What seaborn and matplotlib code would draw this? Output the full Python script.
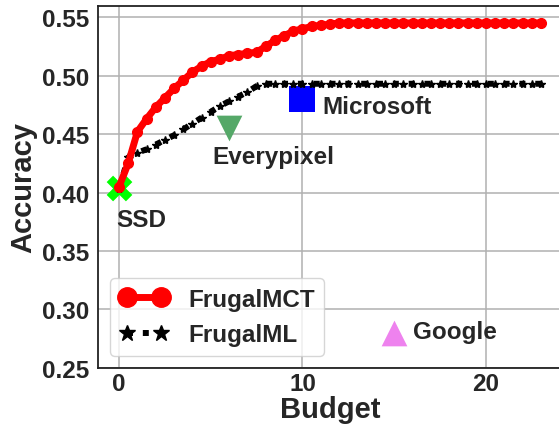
import numpy as np
import pandas as pd
import matplotlib
matplotlib.use("Agg")
import matplotlib.pyplot as plt
import seaborn as sns

# Budget grid shared by both strategies
budget = np.arange(0, 23.5, 0.5)

frugal_mct = [
    0.405, 0.425, 0.452, 0.463, 0.473, 0.481, 0.489, 0.496, 0.503, 0.508,
    0.512, 0.514, 0.517, 0.518, 0.519, 0.520, 0.525, 0.530, 0.534, 0.538,
    0.540, 0.542, 0.543, 0.544, 0.545, 0.545, 0.545, 0.545, 0.545, 0.545,
    0.545, 0.545, 0.545, 0.545, 0.545, 0.545, 0.545, 0.545, 0.545, 0.545,
    0.545, 0.545, 0.545, 0.545, 0.545, 0.545, 0.545,
]
frugal_ml = [
    0.403, 0.430, 0.434, 0.437, 0.441, 0.445, 0.449, 0.454, 0.459, 0.464,
    0.469, 0.474, 0.478, 0.482, 0.486, 0.491, 0.493, 0.493, 0.493, 0.493,
    0.493, 0.493, 0.493, 0.493, 0.493, 0.493, 0.493, 0.493, 0.493, 0.493,
    0.493, 0.493, 0.493, 0.493, 0.493, 0.493, 0.493, 0.493, 0.493, 0.493,
    0.493, 0.493, 0.493, 0.493, 0.493, 0.493, 0.493,
]

# Single commercial / open-source APIs
api_names = ["SSD", "Everypixel", "Microsoft", "Google"]
api_cost = [0, 6, 10, 15]
api_acc = [0.404, 0.455, 0.480, 0.280]
api_marker = ["X", "v", "s", "^"]
api_color = ["#00ff00", "#55a868", "#0000ff", "#ee82ee"]
# label anchor (budget, accuracy) for each API name
label_pos = [(-0.15, 0.377), (5.07, 0.431), (11.07, 0.4737), (16.04, 0.281)]

sns.set_theme(style="whitegrid")
plt.rcParams["font.family"] = ["Liberation Sans", "DejaVu Sans"]
plt.rcParams["font.weight"] = "bold"
plt.rcParams["axes.labelweight"] = "bold"
plt.rcParams["text.color"] = "#262626"

fig = plt.figure(figsize=(5.59, 4.31), dpi=100)
ax = fig.add_axes([0.1753, 0.1439, 0.8301, 0.8399])

for name, c, a, m, col in zip(api_names, api_cost, api_acc, api_marker, api_color):
    sns.scatterplot(x=[c], y=[a], marker=m, color=col, s=18.5 ** 2,
                    linewidth=0, ax=ax, zorder=2)

df = pd.DataFrame({"budget": budget, "mct": frugal_mct, "ml": frugal_ml})
sns.lineplot(data=df, x="budget", y="mct", color="red", linewidth=5,
             marker="o", markersize=7, markeredgewidth=1,
             markeredgecolor="red",
             label="FrugalMCT", ax=ax, zorder=4)
sns.lineplot(data=df, x="budget", y="ml", color="black", linewidth=4.3,
             linestyle=":", marker="*", markersize=6, markeredgewidth=1,
             markeredgecolor="black",
             label="FrugalML", ax=ax, zorder=3)

for name, (tx, ty) in zip(api_names, label_pos):
    ax.text(tx, ty, name, fontsize=17.5, fontweight="bold", va="center",
            ha="left", color="#262626")

ax.set_xlim(-1.15, 24.15)
ax.set_ylim(0.25, 0.5595)
ax.set_xticks([0, 10, 20])
ax.set_yticks([0.25, 0.30, 0.35, 0.40, 0.45, 0.50, 0.55])
ax.set_yticklabels(["0.25", "0.30", "0.35", "0.40", "0.45", "0.50", "0.55"])
ax.tick_params(axis="both", length=0, labelsize=17.5)
ax.tick_params(axis="x", pad=3)
ax.tick_params(axis="y", pad=6)
ax.set_xlabel("Budget", fontsize=21, fontweight="bold", labelpad=0)
ax.set_ylabel("Accuracy", fontsize=21, fontweight="bold", labelpad=4)

ax.grid(True, color="#b0b0b0", linewidth=1.1)
for side in ["left", "bottom", "top", "right"]:
    ax.spines[side].set_color("#222222")
    ax.spines[side].set_linewidth(1.3)

leg = ax.legend(loc="lower left", markerscale=2, numpoints=2,
                prop={"size": 17.5, "weight": "bold"})

fig.savefig("out.png", dpi=100)
